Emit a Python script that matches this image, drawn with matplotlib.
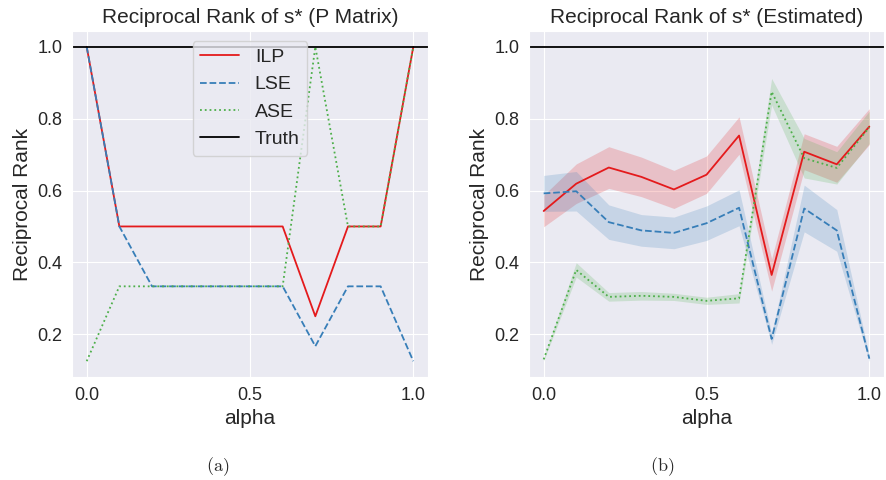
import numpy as np
import matplotlib
matplotlib.use("Agg")
import matplotlib.pyplot as plt
import seaborn as sns

alpha = [0.0, 0.1, 0.2, 0.3, 0.4, 0.5, 0.6, 0.7, 0.8, 0.9, 1.0]

# (a) P matrix
ilp_p = [1.0, 0.5, 0.5, 0.5, 0.5, 0.5, 0.5, 0.25, 0.5, 0.5, 1.0]
lse_p = [1.0, 0.5, 1/3, 1/3, 1/3, 1/3, 1/3, 1/6, 1/3, 1/3, 0.125]
ase_p = [0.125, 1/3, 1/3, 1/3, 1/3, 1/3, 1/3, 1.0, 0.5, 0.5, 1.0]

# (b) estimated: mean and half-width of the band
ilp_est = [0.543, 0.619, 0.664, 0.638, 0.603, 0.644, 0.753, 0.365, 0.708, 0.673, 0.778]
ilp_err = [0.044, 0.055, 0.058, 0.055, 0.053, 0.052, 0.052, 0.045, 0.050, 0.050, 0.050]
lse_est = [0.592, 0.598, 0.512, 0.489, 0.482, 0.509, 0.552, 0.187, 0.550, 0.489, 0.132]
lse_err = [0.050, 0.055, 0.048, 0.044, 0.044, 0.048, 0.050, 0.015, 0.065, 0.058, 0.008]
ase_est = [0.130, 0.379, 0.304, 0.307, 0.304, 0.293, 0.300, 0.875, 0.690, 0.663, 0.776]
ase_err = [0.004, 0.020, 0.012, 0.012, 0.010, 0.010, 0.013, 0.037, 0.055, 0.045, 0.045]

truth = 1.0

sns.set_style("darkgrid")
plt.rcParams['font.family'] = ['Liberation Sans', 'DejaVu Sans']
plt.rcParams['mathtext.fontset'] = 'cm'

RED, BLUE, GREEN = '#e41a1c', '#377eb8', '#4daf4a'

fig = plt.figure(figsize=(8.86, 4.8), dpi=100)
ax1 = fig.add_axes([72/886, 103/480, 356/886, 346/480])
ax2 = fig.add_axes([529/886, 103/480, 355/886, 346/480])

# left panel
ax1.plot(alpha, ilp_p, color=RED, linestyle='-', lw=1.3, label='ILP')
ax1.plot(alpha, lse_p, color=BLUE, linestyle='--', lw=1.3, label='LSE')
ax1.plot(alpha, ase_p, color=GREEN, linestyle=':', lw=1.3, label='ASE')
ax1.axhline(truth, color='black', lw=1.3, label='Truth')
ax1.set_title("Reciprocal Rank of s* (P Matrix)", fontsize=15)
ax1.legend(loc='upper center', fontsize=14, bbox_to_anchor=(0.5, 1.0))

# right panel
x = np.array(alpha)
for est, err, col, ls in [(ilp_est, ilp_err, RED, '-'),
                          (lse_est, lse_err, BLUE, '--'),
                          (ase_est, ase_err, GREEN, ':')]:
    est = np.array(est); err = np.array(err)
    ax2.fill_between(x, est - err, est + err, color=col, alpha=0.2, lw=0)
    ax2.plot(x, est, color=col, linestyle=ls, lw=1.3)
ax2.axhline(truth, color='black', lw=1.3)
ax2.set_title("Reciprocal Rank of s* (Estimated)", fontsize=15)

for ax in (ax1, ax2):
    ax.set_xlabel("alpha", fontsize=15)
    ax.set_ylabel("Reciprocal Rank", fontsize=15)
    ax.set_ylim(0.081, 1.044)
    ax.set_xlim(-0.045, 1.045)
    ax.set_xticks([0.0, 0.5, 1.0])
    ax.set_yticks([0.2, 0.4, 0.6, 0.8, 1.0])
    ax.tick_params(labelsize=13)

fig.text(218/886, 1 - 467/480, r"$\mathrm{(a)}$", ha='center', va='center', fontsize=13)
fig.text(662/886, 1 - 467/480, r"$\mathrm{(b)}$", ha='center', va='center', fontsize=13)

fig.savefig("out.png", dpi=100)
